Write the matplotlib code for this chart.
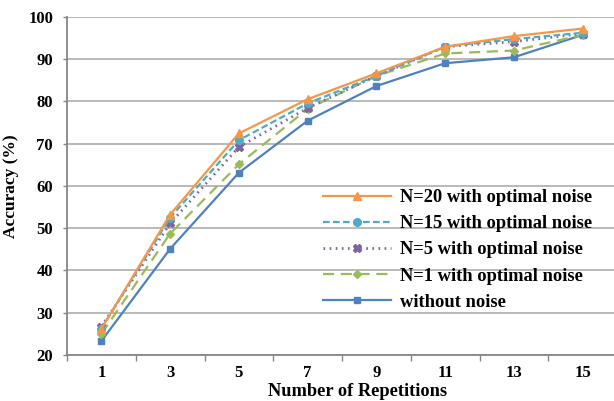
import numpy as np
import matplotlib
matplotlib.use("Agg")
import matplotlib.pyplot as plt

# data
repetitions = ["1", "3", "5", "7", "9", "11", "13", "15"]
n20 = [26.2, 53.2, 72.4, 80.5, 86.6, 92.9, 95.4, 97.2]
n15 = [26.2, 52.5, 70.8, 79.5, 86.0, 92.9, 94.7, 96.2]
n5 = [26.7, 51.1, 69.2, 78.4, 86.0, 92.9, 94.1, 96.0]
n1 = [25.0, 48.7, 65.1, 78.2, 86.0, 91.3, 92.0, 95.7]
no_noise = [23.3, 45.1, 63.1, 75.4, 83.6, 89.0, 90.4, 95.7]

plt.rcParams["font.family"] = ["Liberation Serif", "DejaVu Serif"]
plt.rcParams["font.weight"] = "bold"

fig = plt.figure(figsize=(6.14, 4.01), dpi=100)
ax = fig.add_axes([67 / 614, 46 / 401, 550 / 614, 338.3 / 401])

x = np.arange(len(repetitions))
lw = 1.6
ax.plot(x, n20, color="#F79646", lw=lw, marker="^", ms=5.5,
        label="N=20 with optimal noise", zorder=6)
ax.plot(x, n15, color="#4BACC6", lw=lw, ls=(0, (3, 1.5)), marker="o", ms=5.5,
        label="N=15 with optimal noise", zorder=5)
ax.plot(x, n5, color="#8064A2", lw=2.0, ls=(0, (0.6, 1.6)), marker="X", ms=6,
        label="N=5 with optimal noise", zorder=4)
ax.plot(x, n1, color="#9BBB59", lw=lw, ls=(0, (5, 3)), marker="D", ms=4.5,
        label="N=1 with optimal noise", zorder=3)
ax.plot(x, no_noise, color="#4F81BD", lw=lw, marker="s", ms=5,
        label="without noise", zorder=2)

ax.set_xlim(-0.5, len(repetitions) - 0.5)
ax.set_ylim(20, 100)
ax.set_yticks(np.arange(20, 101, 10))
ax.set_xticks(x)
ax.set_xticklabels(repetitions)
ax.set_xticks(np.arange(-0.5, len(repetitions), 1), minor=True)

ax.yaxis.grid(True, color="#A6A6A6", lw=1.1)
ax.set_axisbelow(True)
for side in ["top", "right"]:
    ax.spines[side].set_visible(False)
for side in ["left", "bottom"]:
    ax.spines[side].set_color("#868686")
    ax.spines[side].set_linewidth(1.3)

ax.tick_params(axis="y", length=3, width=1, color="#868686", pad=7,
               labelsize=12)
ax.tick_params(axis="x", which="major", length=0, pad=7.5, labelsize=12)
ax.tick_params(axis="x", which="minor", length=4, width=1, color="#868686")

ax.set_ylabel("Accuracy (%)", fontsize=12.5, fontweight="bold", labelpad=7)
fig.text(358 / 614, 1 - 391 / 401, "Number of Repetitions", ha="center",
         va="center", fontsize=13.2, fontweight="bold")

ax.legend(loc="upper left", bbox_to_anchor=(323 / 614, 1 - 189 / 401),
          bbox_transform=fig.transFigure, frameon=False, borderpad=0,
          borderaxespad=0, handlelength=3.7, handletextpad=0.45,
          labelspacing=0.5, prop={"size": 13.3, "weight": "bold"})

fig.savefig("out.png", dpi=100)
